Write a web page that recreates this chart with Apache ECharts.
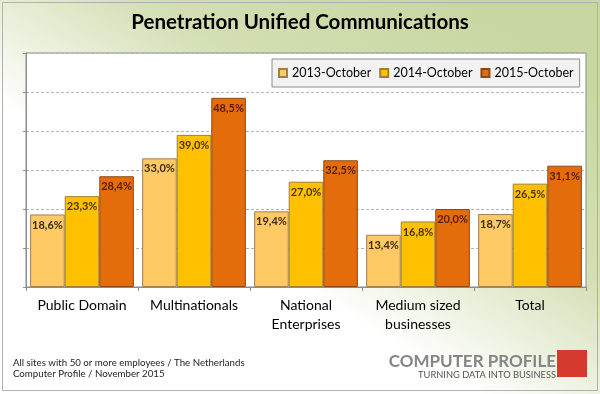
<!DOCTYPE html>
<html>
<head>
<meta charset="utf-8">
<script src="https://cdn.jsdelivr.net/npm/echarts@6/dist/echarts.min.js"></script>
<style>html,body{margin:0;padding:0;background:#fff}#c{width:600px;height:394px}</style>
</head>
<body>
<div id="c"></div>
<script>
const categories = ['Public Domain', 'Multinationals', 'National\nEnterprises', 'Medium sized\nbusinesses', 'Total'];
const seriesNames = ['2013-October', '2014-October', '2015-October'];
const values2013 = [18.6, 33.0, 19.4, 13.4, 18.7];
const values2014 = [23.3, 39.0, 27.0, 16.8, 26.5];
const values2015 = [28.4, 48.5, 32.5, 20.0, 31.1];
const yTicks = [0, 10, 20, 30, 40, 50, 60];

const colors = ['#FFC966', '#FFC000', '#E46C0A'];
const borderColors = ['#a08048', '#a08030', '#8a4a18'];
const labelColors = ['#3a2a10', '#4a3400', '#5a1c00'];
const FONT = 'Lato, "Open Sans", sans-serif';

const chart = echarts.init(document.getElementById('c'), null, {renderer: 'canvas'});
const allValues = [values2013, values2014, values2015];

const option = {
  animation: false,
  backgroundColor: new echarts.graphic.LinearGradient(0.75, 0, 0.35, 1, [
    {offset: 0, color: '#c8d7a2'},
    {offset: 0.35, color: '#d3dfb4'},
    {offset: 0.7, color: '#ffffff'},
    {offset: 1, color: '#ffffff'}
  ]),
  title: {
    text: 'Penetration Unified Communications',
    left: 'center',
    top: 12,
    padding: 0,
    textStyle: {fontFamily: FONT, fontSize: 20.5, fontWeight: 'bold', color: '#000'}
  },
  legend: {
    data: seriesNames,
    left: 272,
    top: 59,
    padding: [6, 6, 6, 6],
    backgroundColor: '#f2f2f2',
    borderColor: '#8c8c8c',
    borderWidth: 1,
    itemWidth: 8,
    itemHeight: 8,
    itemGap: 8,
    icon: 'rect',
    textStyle: {fontFamily: FONT, fontSize: 12.5, lineHeight: 16, color: '#000'}
  },
  grid: {
    left: 26, right: 14, top: 53, bottom: 107,
    show: true,
    backgroundColor: '#ffffff',
    borderColor: '#8c8c8c',
    borderWidth: 1
  },
  xAxis: {
    type: 'category',
    data: categories,
    axisLine: {lineStyle: {color: '#8c8c8c'}},
    axisTick: {show: true, length: 4, lineStyle: {color: '#8c8c8c'}},
    axisLabel: {interval: 0, fontFamily: FONT, fontSize: 14, color: '#000', margin: 9, lineHeight: 19}
  },
  yAxis: {
    type: 'value',
    min: yTicks[0],
    max: yTicks[yTicks.length - 1],
    interval: 10,
    axisLabel: {show: false},
    axisLine: {show: true, lineStyle: {color: '#8c8c8c'}},
    axisTick: {show: true, length: 3, lineStyle: {color: '#8c8c8c'}},
    splitLine: {show: true, lineStyle: {color: '#b4b4b4', type: [3, 2]}}
  },
  series: seriesNames.map((name, i) => ({
    name: name,
    type: 'bar',
    data: allValues[i],
    barGap: '0%',
    barCategoryGap: '7.4%',
    itemStyle: {color: colors[i], borderColor: borderColors[i], borderWidth: 1},
    label: {
      show: true,
      position: 'insideTop',
      distance: 5,
      fontFamily: FONT,
      fontSize: 11,
      fontWeight: 'bold',
      color: labelColors[i],
      formatter: p => p.value.toFixed(1).replace('.', ',') + '%'
    }
  })),
  graphic: [
    {type: 'rect', shape: {x: 2.5, y: 2.5, width: 595, height: 388}, style: {fill: 'none', stroke: '#b0b0b0', lineWidth: 1}, z: 100},
    {type: 'text', left: 13, top: 358, style: {text: 'All sites with 50 or more employees / The Netherlands', font: '9.7px ' + FONT, fill: '#222'}},
    {type: 'text', left: 13, top: 369, style: {text: 'Computer Profile / November 2015', font: '9.7px ' + FONT, fill: '#222'}},
    {type: 'text', right: 44, top: 353, style: {text: 'COMPUTER PROFILE', font: 'bold 17px ' + FONT, fill: '#858585'}},
    {type: 'text', right: 44, top: 370, style: {text: 'TURNING DATA INTO BUSINESS', font: '9.3px ' + FONT, fill: '#555'}},
    {type: 'rect', shape: {x: 557, y: 350, width: 30, height: 27}, style: {fill: '#d63a2f'}}
  ]
};
chart.setOption(option);
</script>
</body>
</html>
